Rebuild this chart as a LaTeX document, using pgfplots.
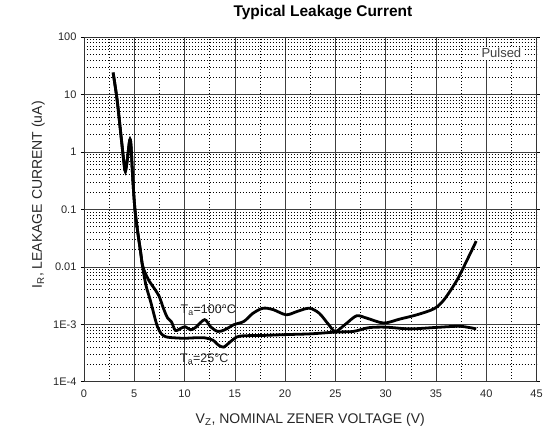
\documentclass[border=0pt]{standalone}
\usepackage{fontspec}
\setmainfont{Liberation Sans}
\usepackage{pgfplots}
\pgfplotsset{compat=1.18}
\begin{document}
\begin{tikzpicture}
\begin{axis}[
  scale only axis, width=453bp, height=345bp,
  ymode=log, log basis y=10,
  xmin=0, xmax=45, ymin=1e-4, ymax=100,
  xtick={0,5,...,45}, minor xtick={2.5,7.5,...,42.5},
  ytick={1e-4,1e-3,1e-2,1e-1,1,10,100},
  yticklabels={1E-4,1E-3,0.01,0.1,1,10,100},
  minor ytick={2e-4,3e-4,4e-4,5e-4,6e-4,7e-4,8e-4,9e-4,
               2e-3,3e-3,4e-3,5e-3,6e-3,7e-3,8e-3,9e-3,
               2e-2,3e-2,4e-2,5e-2,6e-2,7e-2,8e-2,9e-2,
               0.2,0.3,0.4,0.5,0.6,0.7,0.8,0.9,
               2,3,4,5,6,7,8,9,
               20,30,40,50,60,70,80,90},
  grid=both,
  major grid style={black!75, line width=0.5bp},
  minor grid style={black, line width=0.5bp, dash pattern=on 0.7bp off 2.3bp},
  axis line style={black!80, line width=0.6bp},
  tick align=outside,
  xtick style={draw=none},
  ytick style={black, line width=0.5bp},
  major tick length=3bp, minor tick length=0bp,
  /pgf/number format/assume math mode=true,
  tick label style={font=\fontsize{11bp}{13bp}\selectfont, text=black!85},
  xticklabel style={yshift=-2bp},
  yticklabel style={xshift=-1bp},
  title={Typical Leakage Current},
  title style={font=\fontsize{15.5bp}{17bp}\selectfont\bfseries, at={(axis description cs:0.528,1.0406)}, anchor=base},
  xlabel={V\textsubscript{Z}, NOMINAL ZENER VOLTAGE (V)},
  ylabel={I\textsubscript{R}, LEAKAGE CURRENT (uA)},
  label style={font=\fontsize{14bp}{16bp}\selectfont, text=black!85},
  xlabel style={at={(axis description cs:0.5,-0.1217)}, anchor=base},
  ylabel style={at={(axis description cs:-0.0927,0.542)}, anchor=base, rotate=0},
]
% Ta = 25 C
\addplot[black, line width=2.8bp, smooth, tension=0.5] coordinates {
(2.9,24) (3.3,8) (3.7,1.8) (4.0,0.6) (4.12,0.46) (4.3,0.7) (4.55,1.6) (4.68,1.3)
(4.85,0.35) (5.07,0.1) (5.35,0.04) (5.6,0.02) (5.8,0.011) (5.95,0.0075) (6.2,0.0045)
(6.6,0.0026) (7.0,0.0014) (7.3,0.00092) (7.7,0.00068) (8.2,0.0006) (9,0.00058)
(10,0.00057) (11,0.00058) (12,0.00058) (12.8,0.00053) (13.4,0.00043) (13.9,0.0004)
(14.4,0.00047) (15.2,0.0006) (16,0.00063) (18,0.00064) (20,0.00066) (22.5,0.00068)
(25,0.00073) (26.8,0.00075) (28.3,0.00087) (30,0.00089) (32.4,0.00083) (35,0.00088)
(37.4,0.00092) (39,0.00083)
};
% Ta = 100 C
\addplot[black, line width=2.8bp, smooth, tension=0.5] coordinates {
(2.9,24) (3.3,8) (3.7,1.8) (4.0,0.6) (4.12,0.46) (4.3,0.7) (4.55,1.6) (4.68,1.3)
(4.85,0.35) (5.07,0.1) (5.35,0.04) (5.6,0.02) (5.8,0.011) (6.0,0.0085) (6.5,0.0056)
(7.0,0.0042) (7.5,0.003) (7.9,0.0019) (8.3,0.0013) (8.7,0.0011) (9.1,0.00078)
(9.7,0.00086) (10.1,0.0009) (10.6,0.0008) (11.1,0.00088) (12.0,0.0012) (12.6,0.0009)
(13.3,0.00075) (14,0.0008) (14.9,0.00098) (15.9,0.00112) (16.8,0.00155) (17.8,0.0019)
(18.8,0.0018) (20.1,0.00146) (21.2,0.00167) (22.4,0.0019) (23.4,0.00155) (24.3,0.001)
(25,0.00075) (26,0.001) (27.1,0.0014) (28.1,0.00128) (29.8,0.00105) (31.4,0.00123)
(33.1,0.00146) (34.8,0.00186) (35.8,0.00267) (37.1,0.0059) (38.1,0.0132) (39.0,0.028)
};
\node[anchor=base west, inner sep=0pt, font=\fontsize{12.5bp}{14bp}\selectfont, text=black!85]
  at (axis cs:9.6,0.00152) {T\textsubscript{a}=100°C};
\node[anchor=base west, inner sep=0pt, font=\fontsize{12.5bp}{14bp}\selectfont, text=black!85]
  at (axis cs:9.55,0.000217) {T\textsubscript{a}=25°C};
\node[fill=white, inner sep=1.5bp, font=\fontsize{13bp}{15bp}\selectfont, text=black!75]
  at (axis cs:41.5,52) {Pulsed};
\end{axis}
\path ([shift={(-84bp,-48bp)}]current axis.south west) rectangle ([shift={(9bp,37bp)}]current axis.north east);
\end{tikzpicture}
\end{document}
